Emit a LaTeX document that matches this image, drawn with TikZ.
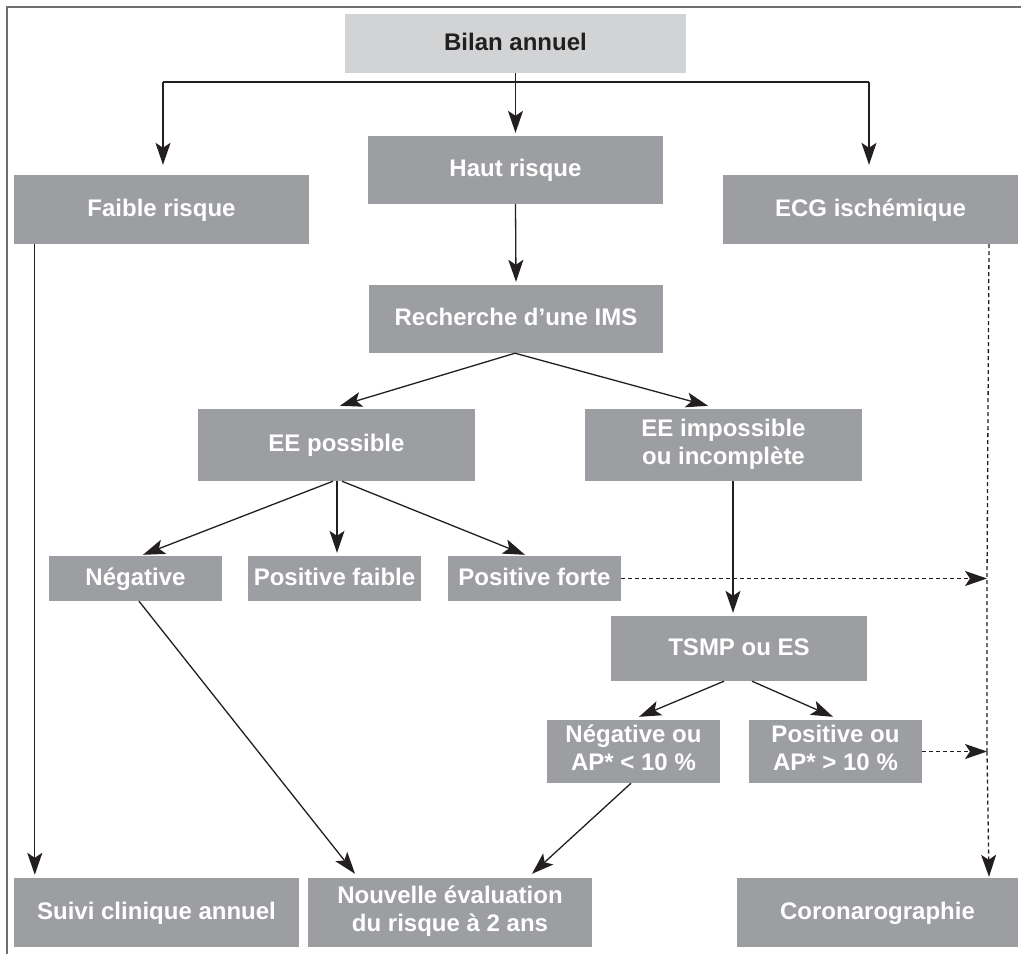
\documentclass[tikz,border=0pt]{standalone}
\usepackage{fontspec}
\setmainfont{Liberation Sans}
\usetikzlibrary{arrows.meta}
\definecolor{boxgray}{RGB}{157,158,162}
\definecolor{lightgray}{RGB}{209,211,212}
\definecolor{framegray}{RGB}{110,110,112}
\definecolor{inkblack}{RGB}{35,31,32}
\newcommand{\topstrut}{\rule{0pt}{20.75pt}}
\newcommand{\botstrut}{\rule[-7.25pt]{0pt}{7.25pt}}
\tikzset{
  gbox/.style={fill=boxgray, text=white, font=\bfseries\fontsize{24}{28}\selectfont, align=center, inner sep=0pt,
    execute at begin node=\topstrut, execute at end node=\botstrut},
  arr/.style={-{Stealth[length=22pt,width=15pt,inset=5pt]}, line width=1.3pt, draw=inkblack},
  darr/.style={arr, dash pattern=on 4pt off 3pt},
}
\begin{document}
\begin{tikzpicture}[x=1pt,y=-1pt]
\useasboundingbox (0,0) rectangle (1021,954);
\fill[white] (0,0) rectangle (1021,954);
% frame
\draw[framegray, line width=2pt] (7,954) -- (7,7) -- (1021,7);

% nodes
\node[gbox, fill=lightgray, text=inkblack, minimum width=341, minimum height=59] (bilan) at (515.5,43.5) {Bilan annuel};
\node[gbox, minimum width=295, minimum height=69] (faible) at (161.5,209.5) {Faible risque};
\node[gbox, minimum width=295, minimum height=68] (haut) at (515.5,170) {Haut risque};
\node[gbox, minimum width=295, minimum height=69] (ecg) at (870.5,209.5) {ECG ischémique};
\node[gbox, minimum width=294, minimum height=68] (ims) at (516,319) {Recherche d’une IMS};
\node[gbox, minimum width=277, minimum height=72] (eep) at (336.5,445) {EE possible};
\node[gbox, minimum width=277, minimum height=72] (eei) at (723.5,445) {EE impossible\\ou incomplète};
\node[gbox, minimum width=173, minimum height=45] (neg) at (135.5,578.5) {Négative};
\node[gbox, minimum width=173, minimum height=45] (posf) at (334.5,578.5) {Positive faible};
\node[gbox, minimum width=173, minimum height=45] (posF) at (534.5,578.5) {Positive forte};
\node[gbox, minimum width=256, minimum height=65] (tsmp) at (739,648.5) {TSMP ou ES};
\node[gbox, minimum width=173, minimum height=63] (negou) at (633.5,751.5) {Négative ou\\AP* < 10 \%};
\node[gbox, minimum width=173, minimum height=63] (posou) at (835.5,751.5) {Positive ou\\AP* > 10 \%};
\node[gbox, minimum width=285, minimum height=69] (suivi) at (156.5,912.5) {Suivi clinique annuel};
\node[gbox, minimum width=284, minimum height=69] (nouv) at (450,912.5) {Nouvelle évaluation\\du risque à 2 ans};
\node[gbox, minimum width=281, minimum height=69] (coro) at (877.5,912.5) {Coronarographie};

% coordinates
\coordinate (jl) at (163,82);
\coordinate (jr) at (869,82);
\coordinate (vtop) at (989,244);
\coordinate (d1) at (987,578.5);
\coordinate (d2) at (987,751.5);

% connectors
\draw[line width=1.3pt, draw=inkblack] (jl) -- (jr);
\draw[arr] (bilan.south) -- ([yshift=3pt]haut.north);
\draw[arr] (jl) -- ([xshift=1.5pt,yshift=10pt]faible.north);
\draw[arr] (jr) -- ([xshift=-1.5pt,yshift=10pt]ecg.north);
\draw[arr] (haut.south) -- ([yshift=3pt]ims.north);
\draw[arr] ([xshift=-1pt]ims.south) -- ([xshift=3.5pt,yshift=3pt]eep.north);
\draw[arr] ([xshift=-1pt]ims.south) -- ([xshift=-15.5pt,yshift=3pt]eei.north);
\draw[arr] ([xshift=-3.5pt]eep.south) -- ([xshift=7.5pt,yshift=1pt]neg.north);
\draw[arr] ([xshift=0.5pt]eep.south) -- ([xshift=2.5pt,yshift=3pt]posf.north);
\draw[arr] ([xshift=5.5pt]eep.south) -- ([xshift=-9.5pt,yshift=1pt]posF.north);
\draw[darr] (posF.east) -- (d1);
\draw[dash pattern=on 4pt off 3pt, line width=1.3pt, draw=inkblack] (vtop) -- (d1) -- (d2);
\draw[darr] (d2) -- ([yshift=1pt]vtop |- coro.north);
\draw[arr] ([xshift=9.5pt]eei.south) -- ([xshift=-6pt,yshift=3pt]tsmp.north);
\draw[arr] ([xshift=-15pt]tsmp.south) -- ([xshift=5.5pt,yshift=3pt]negou.north);
\draw[arr] ([xshift=13pt]tsmp.south) -- ([xshift=-2.5pt,yshift=3pt]posou.north);
\draw[darr] (posou.east) -- (d2);
\draw[arr] ([xshift=21pt]faible.south west) -- ([xshift=21pt,yshift=3pt]suivi.north west);
\draw[arr] ([xshift=3.5pt]neg.south) -- ([xshift=-95pt,yshift=4pt]nouv.north);
\draw[arr] ([xshift=-2.5pt]negou.south) -- ([xshift=82pt,yshift=4pt]nouv.north);
\end{tikzpicture}
\end{document}
